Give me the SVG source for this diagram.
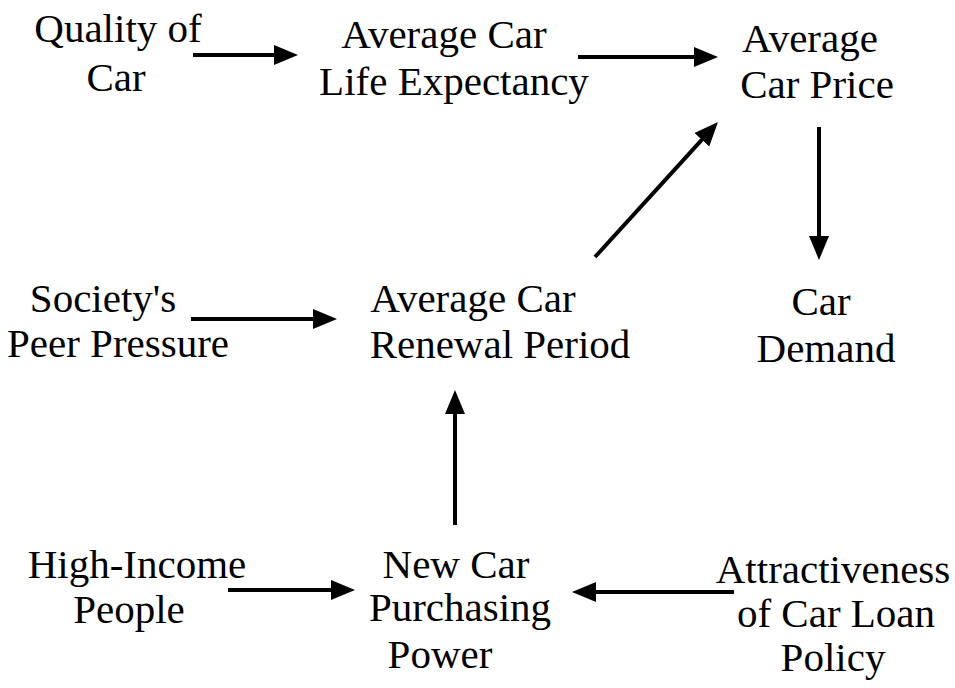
<svg xmlns="http://www.w3.org/2000/svg" width="955" height="688" viewBox="0 0 955 688">
<defs>
<style>
text{font-family:"Liberation Serif","Times New Roman",serif;font-size:41px;fill:#000;text-anchor:middle}
.c line{stroke:#000;stroke-width:4;fill:none;marker-end:url(#ah)}
</style>
<marker id="ah" markerUnits="userSpaceOnUse" markerWidth="24" markerHeight="22" viewBox="0 0 24 22" refX="13" refY="11" orient="auto">
<path d="M0,1 L24,11 L0,21 z" fill="#000"/>
</marker>
</defs>
<rect width="955" height="688" fill="#fff"/>
<g id="quality"><text x="118" y="42">Quality of</text><text x="116" y="91">Car</text></g>
<g id="life"><text x="444" y="48">Average Car</text><text x="454" y="95">Life Expectancy</text></g>
<g id="price"><text x="810" y="52">Average</text><text x="817" y="98">Car Price</text></g>
<g id="peer"><text x="103" y="312">Society's</text><text x="118" y="357">Peer Pressure</text></g>
<g id="renewal"><text x="473" y="312">Average Car</text><text x="500" y="358">Renewal Period</text></g>
<g id="demand"><text x="821" y="315">Car</text><text x="826" y="362">Demand</text></g>
<g id="income"><text x="137" y="578">High-Income</text><text x="129" y="623">People</text></g>
<g id="purchasing"><text x="456" y="578">New Car</text><text x="460" y="621">Purchasing</text><text x="440" y="668">Power</text></g>
<g id="loan"><text x="833" y="583">Attractiveness</text><text x="836" y="627">of Car Loan</text><text x="833" y="671">Policy</text></g>
<g id="connectors" class="c">
<line x1="193" y1="55" x2="287" y2="55"/>
<line x1="578" y1="57" x2="707" y2="57"/>
<line x1="595" y1="257" x2="710.6" y2="130.1"/>
<line x1="819" y1="127" x2="819" y2="249"/>
<line x1="191" y1="319" x2="326" y2="319"/>
<line x1="455" y1="525" x2="455" y2="401"/>
<line x1="228" y1="590" x2="344" y2="590"/>
<line x1="734" y1="592" x2="583" y2="592"/>
</g>
</svg>
